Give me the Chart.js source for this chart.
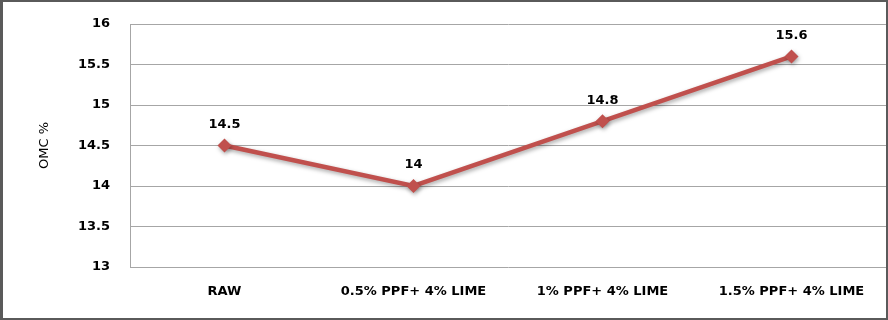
<!DOCTYPE html>
<html>
<head>
<meta charset="utf-8">
<script src="https://cdn.jsdelivr.net/npm/chart.js@4.4.0/dist/chart.umd.min.js"></script>
<style>
  html, body { margin: 0; padding: 0; background: #fff; }
  #wrap { position: relative; width: 888px; height: 320px; }
</style>
</head>
<body>
<div id="wrap"><canvas id="omc-chart" width="888" height="320"></canvas></div>
<script>
// Chart values
const categories = ['RAW', '0.5% PPF+ 4% LIME', '1% PPF+ 4% LIME', '1.5% PPF+ 4% LIME'];
const omcValues = [14.5, 14, 14.8, 15.6];
const yTicks = [13, 13.5, 14, 14.5, 15, 15.5, 16];

const lineColor = '#C0504D';
const labelFont = { family: 'DejaVu Sans', size: 13, weight: 'bold' };

// draws value labels above each point (no datalabels plugin available)
const valueLabels = {
    id: 'valueLabels',
    afterDatasetsDraw(chart) {
        const ctx = chart.ctx;
        const meta = chart.getDatasetMeta(0);
        ctx.save();
        ctx.font = 'bold 13px "DejaVu Sans"';
        ctx.fillStyle = '#000';
        ctx.textAlign = 'center';
        ctx.textBaseline = 'middle';
        meta.data.forEach(function(pt, i) {
            ctx.fillText(String(omcValues[i]), pt.x, pt.y - 21);
        });
        ctx.restore();
    }
};

// soft shadow under the line, like the office chart
const lineShadow = {
    id: 'lineShadow',
    beforeDatasetDraw(chart) {
        const ctx = chart.ctx;
        ctx.save();
        ctx.shadowColor = 'rgba(0,0,0,0.35)';
        ctx.shadowBlur = 4;
        ctx.shadowOffsetX = 1;
        ctx.shadowOffsetY = 2;
    },
    afterDatasetDraw(chart) {
        chart.ctx.restore();
    }
};

// outer frame of the chart
const frame = {
    id: 'frame',
    afterDraw(chart) {
        const ctx = chart.ctx;
        ctx.save();
        ctx.strokeStyle = '#5a5a5a';
        ctx.lineWidth = 2;
        ctx.strokeRect(1, 1, chart.width - 2, chart.height - 2);
        ctx.fillStyle = '#5a5a5a';
        ctx.fillRect(0, 0, 3, chart.height);
        ctx.restore();
    }
};

const ctx = document.getElementById('omc-chart').getContext('2d');
new Chart(ctx, {
    type: 'line',
    data: {
        labels: categories,
        datasets: [{
            label: 'OMC %',
            data: omcValues,
            borderColor: lineColor,
            backgroundColor: lineColor,
            borderWidth: 4.5,
            pointStyle: 'rectRot',
            pointRadius: 7,
            pointBorderWidth: 0,
            pointBackgroundColor: lineColor,
            fill: false,
            tension: 0
        }]
    },
    options: {
        responsive: false,
        animation: false,
        layout: { autoPadding: false, padding: { left: 0, right: 2, top: 24, bottom: 0 } },
        plugins: {
            legend: { display: false },
            tooltip: { enabled: false }
        },
        scales: {
            x: {
                offset: true,
                grid: { display: false, drawTicks: false, offset: true },
                border: { display: false },
                ticks: {
                    color: '#000',
                    font: labelFont,
                    padding: 17,
                    maxRotation: 0
                },
                afterFit(scale) {
                    scale.height = 53;
                    scale.paddingLeft = 0;
                    scale.paddingRight = 0;
                }
            },
            y: {
                min: 13,
                max: 16,
                afterBuildTicks(scale) {
                    scale.ticks = yTicks.map(function(v) { return { value: v }; });
                },
                grid: { color: '#a6a6a6', lineWidth: 1, drawTicks: false },
                border: { display: true, color: '#a6a6a6', width: 1 },
                ticks: {
                    color: '#000',
                    font: labelFont,
                    padding: 20,
                    callback: function(v) { return String(v); }
                },
                title: {
                    display: true,
                    text: 'OMC %',
                    color: '#000',
                    font: { family: 'DejaVu Sans', size: 13, weight: 'normal' },
                    padding: { top: 37, bottom: 0 }
                },
                afterFit(scale) {
                    scale.width = 130;
                    scale.paddingTop = 0;
                    scale.paddingBottom = 0;
                }
            }
        }
    },
    plugins: [lineShadow, valueLabels, frame]
});
</script>
</body>
</html>
